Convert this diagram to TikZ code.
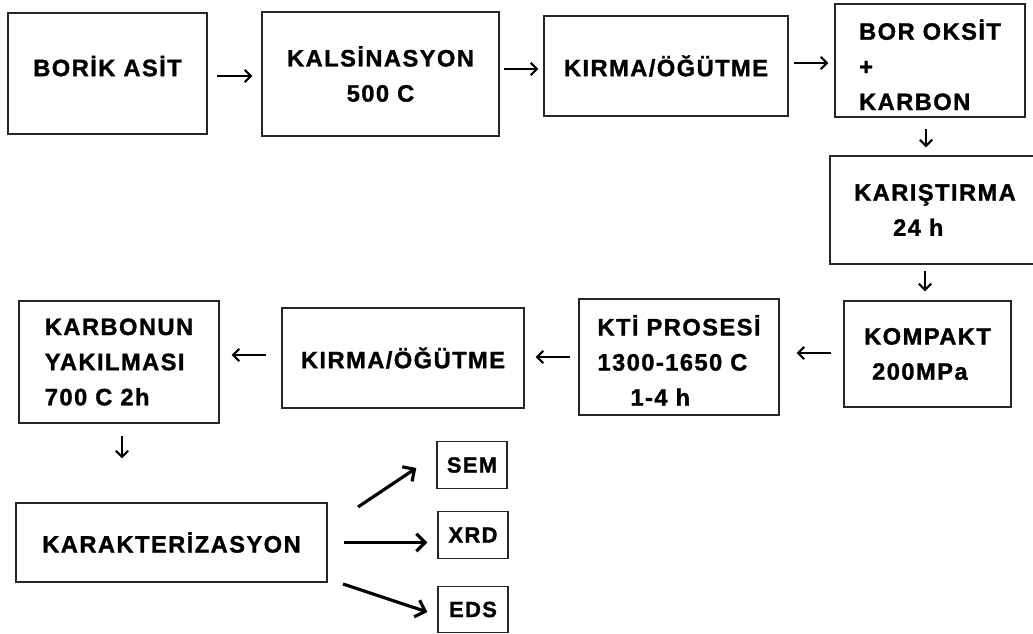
\documentclass[tikz,border=0pt]{standalone}
\usepackage{fontspec}
\setmainfont{Liberation Sans}[LetterSpace=6, BoldFeatures={FakeBold=1.2}]
\usetikzlibrary{arrows.meta}

\begin{document}
\begin{tikzpicture}[x=0.02cm, y=-0.02cm,
    stage/.style={rectangle, draw=black!85, line width=0.8pt, inner sep=0pt,
        font=\bfseries\fontsize{13.5}{20}\selectfont, align=left},
    probe/.style={stage, font=\bfseries\fontsize{12.5}{15}\selectfont,
        minimum width=1.4cm, minimum height=0.93cm},
    flow/.style={-{Straight Barb[length=3.5pt, width=7pt, line width=1.2pt]}, line width=1.1pt},
    fat/.style={-{Straight Barb[length=5pt, width=10pt]}, line width=1.8pt}]

    % PAGE SIZE
    \useasboundingbox (0,0) rectangle (1033,634);

    % TOP ROW
    \node[stage, text depth=0.3cm, minimum width=3.98cm, minimum height=2.42cm]
        (borik) at (107.5,73.5) {BORİK ASİT};
    \node[stage, align=center, minimum width=4.74cm, minimum height=2.48cm]
        (kalsin) at (380.5,74) {KALSİNASYON\\500 C};
    \node[stage, minimum width=4.88cm, minimum height=2.0cm]
        (kirma1) at (666,66) {KIRMA/ÖĞÜTME};
    \node[stage, minimum width=3.8cm, minimum height=2.26cm]
        (boroks) at (930,60.5) {\rule{0pt}{16.5pt}BOR OKSİT\\+\\KARBON};

    % RIGHT COLUMN
    \node[stage, minimum width=4.2cm, minimum height=2.16cm]
        (karis) at (935,210) {KARIŞTIRMA\\\hspace{0.78cm}24 h};
    \node[stage, minimum width=3.34cm, minimum height=2.12cm]
        (kompakt) at (927.5,354) {KOMPAKT\\\hspace{0.16cm}200MPa};

    % MIDDLE ROW
    \node[stage, minimum width=4.0cm, minimum height=2.32cm]
        (kti) at (679,357) {\rule{0pt}{15.4pt}KTİ PROSESİ\\1300-1650 C\\\hspace{0.66cm}1-4 h};
    \node[stage, minimum width=4.84cm, minimum height=2.0cm]
        (kirma2) at (403,358) {KIRMA/ÖĞÜTME};
    \node[stage, minimum width=4.0cm, minimum height=2.44cm]
        (yakma) at (119,362) {KARBONUN\\YAKILMASI\\700 C 2h};

    % CHARACTERISATION
    \node[stage, minimum width=6.22cm, minimum height=1.58cm]
        (karakter) at (171.5,542.5) {KARAKTERİZASYON};
    \node[probe] (sem) at (472,465) {SEM};
    \node[probe] (xrd) at (473,535) {XRD};
    \node[probe] (eds) at (473,609.5) {EDS};

    \coordinate (semfrom) at (358,507);
    \coordinate (edsfrom) at (343,584);

    % PROCESS ARROWS
    \draw[flow, shorten <=0.18cm, shorten >=0.18cm]
        ([yshift=-0.05cm]borik.east) -- ([yshift=-0.05cm]borik.east -| kalsin.west);
    \draw[flow, shorten <=0.08cm, shorten >=0.1cm]
        ([yshift=0.1cm]kalsin.east) -- ([yshift=0.1cm]kalsin.east -| kirma1.west);
    \draw[flow, shorten <=0.1cm, shorten >=0.12cm]
        ([yshift=0.06cm]kirma1.east) -- ([yshift=0.06cm]kirma1.east -| boroks.west);
    \draw[flow, shorten <=0.22cm, shorten >=0.16cm]
        ([xshift=-0.08cm]boroks.south) -- ([xshift=-0.08cm]boroks.south |- karis.north);
    \draw[flow, shorten <=0.12cm, shorten >=0.18cm]
        ([xshift=-0.2cm]karis.south) -- ([xshift=-0.2cm]karis.south |- kompakt.north);
    \draw[flow, shorten <=0.24cm, shorten >=0.34cm]
        ([yshift=0.02cm]kompakt.west) -- ([yshift=0.02cm]kompakt.west -| kti.east);
    \draw[flow, shorten <=0.16cm, shorten >=0.22cm]
        (kti.west) -- (kti.west -| kirma2.east);
    \draw[flow, shorten <=0.3cm, shorten >=0.24cm]
        ([yshift=0.06cm]kirma2.west) -- ([yshift=0.06cm]kirma2.west -| yakma.east);
    \draw[flow, shorten <=0.24cm, shorten >=0.88cm]
        ([xshift=0.06cm]yakma.south) -- ([xshift=0.06cm]yakma.south |- karakter.north);

    % ANALYSIS ARROWS
    \draw[fat] (semfrom) -- ([shift={(-20,3)}]sem.west);
    \draw[fat, shorten <=0.32cm, shorten >=0.2cm]
        (karakter.east) -- (karakter.east -| xrd.west);
    \draw[fat] (edsfrom) -- ([shift={(-10,2.5)}]eds.west);

\end{tikzpicture}
\end{document}
